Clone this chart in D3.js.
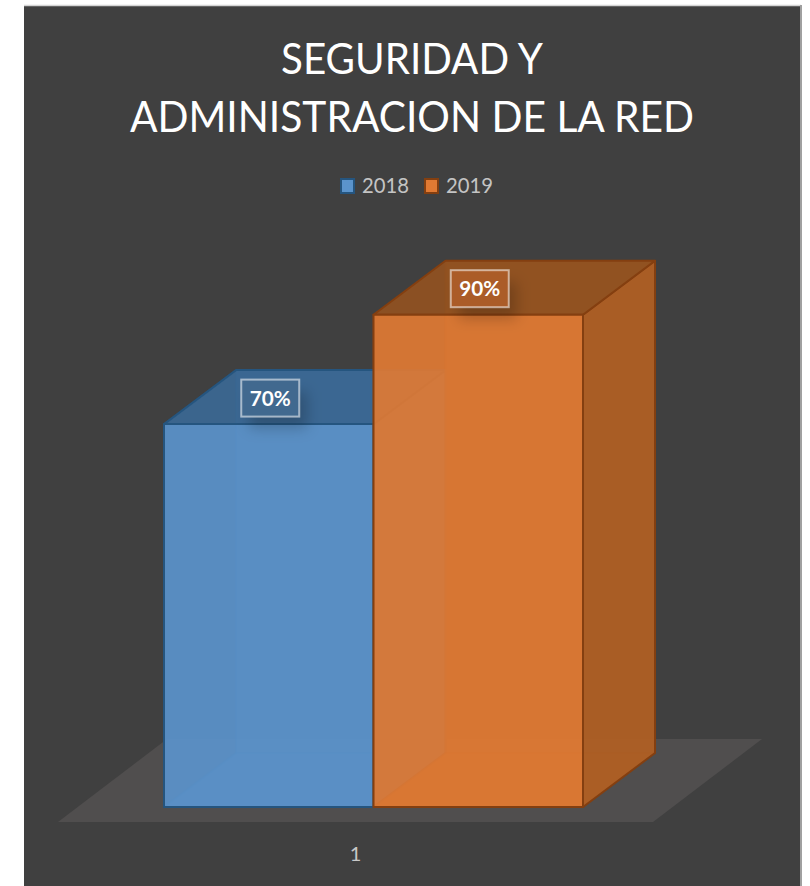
<!DOCTYPE html>
<html><head><meta charset="utf-8">
<script src="https://cdn.jsdelivr.net/npm/d3@7"></script>
<style>html,body{margin:0;padding:0;background:#fff}svg{display:block}text{font-family:Lato,"Open Sans",sans-serif}</style>
</head><body><div id="c"></div>
<script>
const categories = ["1"];
const seriesNames = ["2018", "2019"];
const values2018 = [0.7];
const values2019 = [0.9];
const titleLines = ["SEGURIDAD Y", "ADMINISTRACION DE LA RED"];
const seriesValues = [values2018, values2019];

const W = 810, H = 886;
const svg = d3.select("#c").append("svg").attr("width", W).attr("height", H);
const defs = svg.append("defs");
const blur = defs.append("filter").attr("id", "sh").attr("x", "-50%").attr("y", "-50%").attr("width", "200%").attr("height", "200%");
blur.append("feGaussianBlur").attr("stdDeviation", 7);

svg.append("rect").attr("x", 24).attr("y", 6).attr("width", 776).attr("height", 880).attr("fill", "#404040");
svg.append("path").attr("d", "M24,5.5H801").attr("stroke", "#d4d4d4").attr("stroke-width", 1.5).attr("fill", "none");
svg.append("path").attr("d", "M801,5V886").attr("stroke", "#a0a0a0").attr("stroke-width", 2).attr("fill", "none");

const baseY = 807, dx = 72, dy = 54;
const y = d3.scaleLinear().domain([0, 1]).range([baseY, baseY - 547]);
const xAxisScale = d3.scaleBand().domain(categories).range([58, 653]);
const xSeries = d3.scaleBand().domain(seriesNames).range([164, 583]);
const floorDy = 15, floorBx = 109, floorBy = 83;
const poly = p => d3.line()(p) + "Z";

// floor
const fy = baseY + floorDy;
svg.append("path").attr("d", poly([[xAxisScale.range()[0], fy], [xAxisScale.range()[1], fy], [xAxisScale.range()[1] + floorBx, fy - floorBy], [xAxisScale.range()[0] + floorBx, fy - floorBy]])).attr("fill", "#504e4e");

const palette = {
  "2018": {front: "#5b94cc", top: "#3a6a98", side: "#3e6f9e", line: "#25557f", back: "#4f8fcb"},
  "2019": {front: "#e17a33", top: "#95521f", side: "#ae5e24", line: "#843f10", back: "#e0701f"}
};
const A = 0.9;
seriesNames.forEach((name, i) => {
  const v = seriesValues[i][0], c = palette[name];
  const x0 = xSeries(name), x1 = x0 + xSeries.bandwidth(), yt = y(v), yb = y(0);
  const g = svg.append("g").attr("stroke-linejoin", "round");
  const face = (pts, fill, op, sw) => g.append("path").attr("d", poly(pts)).attr("fill", fill).attr("fill-opacity", op).attr("stroke", c.line).attr("stroke-opacity", sw).attr("stroke-width", 2);
  face([[x0 + dx, yt - dy], [x1 + dx, yt - dy], [x1 + dx, yb - dy], [x0 + dx, yb - dy]], c.back, 0.35, 0.2);
  face([[x0, yb], [x1, yb], [x1 + dx, yb - dy], [x0 + dx, yb - dy]], c.back, 0.45, 0.25);
  face([[x0, yt], [x0 + dx, yt - dy], [x0 + dx, yb - dy], [x0, yb]], c.back, 0.12, 0.25);
  face([[x1, yt], [x1 + dx, yt - dy], [x1 + dx, yb - dy], [x1, yb]], c.side, 0.9, 1);
  face([[x0, yt], [x1, yt], [x1 + dx, yt - dy], [x0 + dx, yt - dy]], c.top, 0.85, 1);
  face([[x0, yt], [x1, yt], [x1, yb], [x0, yb]], c.front, A, 1);
});

// data labels
const labelW = 58, labelH = 37, labelUp = 26;
seriesNames.forEach((name, i) => {
  const v = seriesValues[i][0];
  const cx = xSeries(name) + xSeries.bandwidth() / 2 + 1.5, cy = y(v) - labelUp;
  svg.append("rect").attr("x", cx - labelW / 2 + 8).attr("y", cy - labelH / 2 + 12).attr("width", labelW).attr("height", labelH).attr("fill", "#000").attr("fill-opacity", 0.2).attr("filter", "url(#sh)");
  svg.append("rect").attr("x", cx - labelW / 2).attr("y", cy - labelH / 2).attr("width", labelW).attr("height", labelH)
    .attr("fill", i ? "#ab5c28" : "#41698f").attr("stroke", "#fff").attr("stroke-opacity", 0.55).attr("stroke-width", 2);
  svg.append("text").attr("x", cx).attr("y", cy + 7.5).attr("text-anchor", "middle").attr("fill", "#fff").attr("font-weight", 700).attr("font-size", 21).attr("textLength", 41).attr("lengthAdjust", "spacingAndGlyphs").text(d3.format(".0%")(v));
});

// title
const titleW = [262, 564];
titleLines.forEach((t, i) => {
  svg.append("text").attr("x", 412).attr("y", 74 + i * 58).attr("text-anchor", "middle").attr("fill", "#fff").attr("font-size", 42)
    .attr("textLength", titleW[i]).attr("lengthAdjust", "spacingAndGlyphs").text(t);
});

// legend
const legX = d3.scaleOrdinal().domain(seriesNames).range([341, 425]);
seriesNames.forEach(name => {
  const c = palette[name];
  svg.append("rect").attr("x", legX(name)).attr("y", 179).attr("width", 13).attr("height", 14).attr("fill", c.front).attr("stroke", c.line).attr("stroke-width", 2);
  svg.append("text").attr("x", legX(name) + 21).attr("y", 193).attr("fill", "#c4c4c4").attr("font-size", 21).attr("textLength", 47).attr("lengthAdjust", "spacingAndGlyphs").text(name);
});

// category axis
const axis = svg.append("g").attr("transform", "translate(0,858)").call(d3.axisBottom(xAxisScale).tickSize(0));
axis.select(".domain").remove();
axis.selectAll("text").attr("dy", 0).attr("fill", "#c8c8c8").attr("font-size", 20).attr("font-family", "Lato");
</script></body></html>
